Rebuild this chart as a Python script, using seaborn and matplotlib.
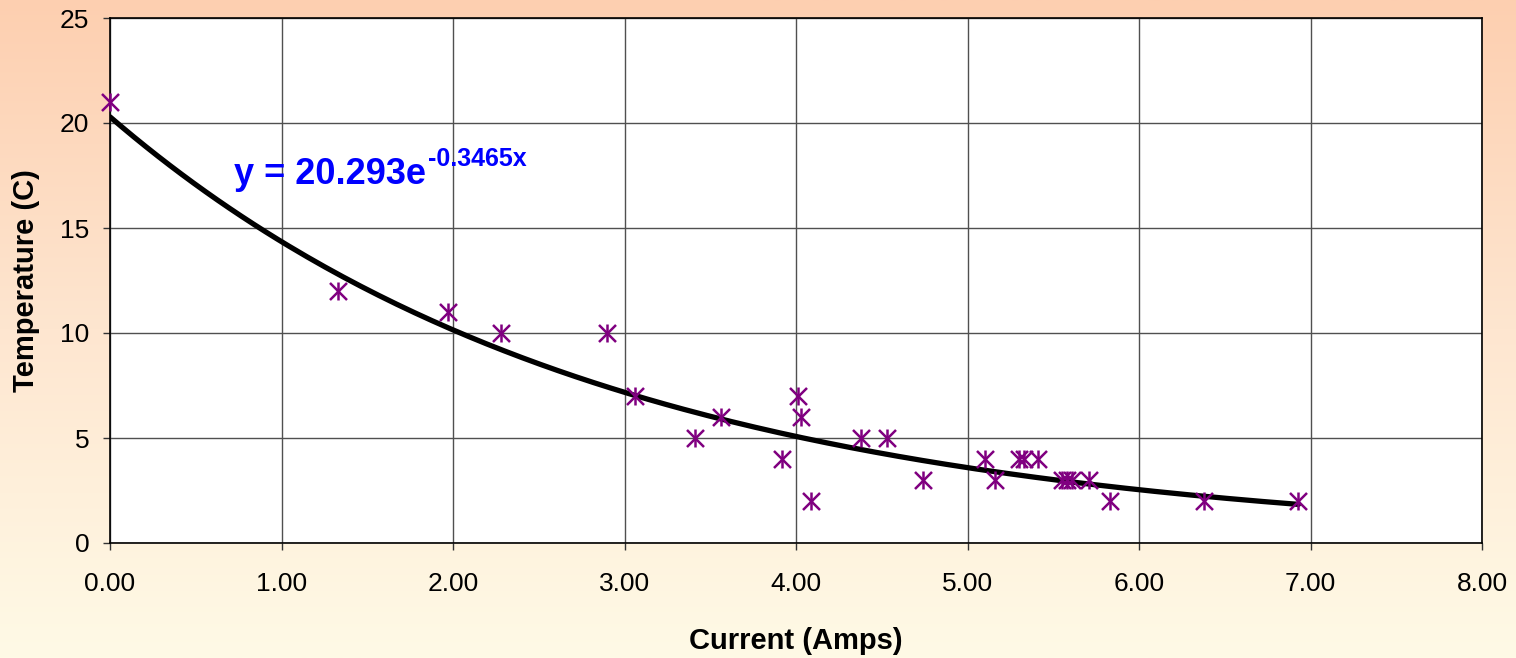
import numpy as np
import pandas as pd
import matplotlib
matplotlib.use("Agg")
import matplotlib.pyplot as plt
import seaborn as sns
from matplotlib.colors import LinearSegmentedColormap

# ---- data ----
current = [0.00, 1.33, 1.97, 2.28, 2.90, 3.06, 3.41, 3.56, 3.92, 4.01, 4.03, 4.09,
           4.38, 4.53, 4.74, 5.10, 5.16, 5.30, 5.33, 5.41, 5.55, 5.58, 5.61, 5.71,
           5.83, 6.38, 6.93]
temperature = [21, 12, 11, 10, 10, 7, 5, 6, 4, 7, 6, 2,
               5, 5, 3, 4, 3, 4, 4, 4, 3, 3, 3, 3,
               2, 2, 2]
fit_a = 20.293
fit_b = -0.3465
x_ticks = [0, 1, 2, 3, 4, 5, 6, 7, 8]
y_ticks = [0, 5, 10, 15, 20, 25]

df = pd.DataFrame({"Current": current, "Temperature": temperature})
xf = np.linspace(min(current), max(current), 200)
fit_df = pd.DataFrame({"Current": xf, "Temperature": fit_a * np.exp(fit_b * xf)})

sns.set_theme(style="white")
plt.rcParams["font.family"] = ["Liberation Sans", "DejaVu Sans"]
plt.rcParams["text.color"] = "black"
plt.rcParams["axes.labelcolor"] = "black"

fig = plt.figure(figsize=(15.16, 6.58), dpi=100)

# gradient background
bg = fig.add_axes([0, 0, 1, 1], zorder=-10)
cmap = LinearSegmentedColormap.from_list("bg", ["#FDCFB0", "#FEE6D0", "#FFFAE6"])
grad = np.linspace(0, 1, 256).reshape(-1, 1)
bg.imshow(grad, aspect="auto", cmap=cmap, extent=[0, 1, 0, 1], origin="upper")
bg.set_axis_off()

ax = fig.add_axes([110 / 1516, 1 - 543 / 658, (1482 - 110) / 1516, (543 - 18) / 658])
ax.set_facecolor("white")

sns.lineplot(data=fit_df, x="Current", y="Temperature", ax=ax, color="black",
             linewidth=3.8, zorder=3)
for mk in ["x", "|"]:
    sns.scatterplot(data=df, x="Current", y="Temperature", ax=ax, marker=mk,
                    color="#800080", s=150, linewidth=1.8, zorder=4, clip_on=False)

ax.set_xlim(0, 8)
ax.set_ylim(0, 25)
ax.set_xticks(x_ticks)
ax.set_xticklabels([f"{v:.2f}" for v in x_ticks])
ax.set_yticks(y_ticks)
ax.grid(True, color="#505050", linewidth=1.0)
ax.set_axisbelow(True)
for sp in ax.spines.values():
    sp.set_color("black")
    sp.set_linewidth(1.2)
ax.tick_params(axis="both", direction="out", length=5, width=1, color="#333333",
               labelsize=19, labelcolor="black", bottom=True, left=True)
ax.tick_params(axis="x", pad=16)
ax.tick_params(axis="y", pad=10)

ax.set_xlabel("Current (Amps)", fontsize=21, fontweight="bold", labelpad=22,
              color="black")
ax.set_ylabel("Temperature (C)", fontsize=21, fontweight="bold", labelpad=14,
              color="black")

# trendline equation
ax.text((234 - 110) / 171.5, (543 - 185) / 20.92, "y = 20.293e", color="#0000FF",
        fontsize=26, fontweight="bold", ha="left", va="baseline")
ax.text((428 - 110) / 171.5, (543 - 167) / 20.92, "-0.3465x", color="#0000FF",
        fontsize=18, fontweight="bold", ha="left", va="baseline")

fig.savefig("out.png", dpi=100)
